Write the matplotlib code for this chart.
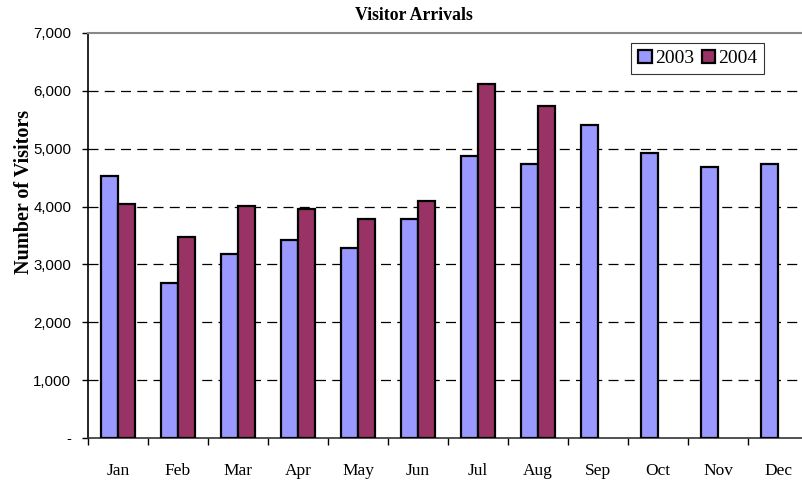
import numpy as np
import matplotlib
matplotlib.use("Agg")
import matplotlib.pyplot as plt
from matplotlib.ticker import FuncFormatter

months = ["Jan", "Feb", "Mar", "Apr", "May", "Jun",
          "Jul", "Aug", "Sep", "Oct", "Nov", "Dec"]
visitors_2003 = [4530, 2680, 3180, 3420, 3290, 3790,
                 4880, 4730, 5410, 4920, 4680, 4740]
visitors_2004 = [4050, 3480, 4010, 3960, 3790, 4090, 6120, 5740]
series_names = ["2003", "2004"]
y_ticks = [0, 1000, 2000, 3000, 4000, 5000, 6000, 7000]

serif = "Liberation Serif"
sans = "Liberation Sans"

fig = plt.figure(figsize=(8.02, 4.8), dpi=100)
ax = fig.add_axes([88 / 802, 1 - 438 / 480, 720 / 802, 405 / 480])

x = np.arange(len(months))
w = 0.285
ax.bar(x[:len(visitors_2003)] - w / 2, visitors_2003, w, color="#9999FF",
       edgecolor="black", linewidth=1.6, label=series_names[0], zorder=3)
ax.bar(x[:len(visitors_2004)] + w / 2, visitors_2004, w, color="#993366",
       edgecolor="black", linewidth=1.6, label=series_names[1], zorder=3)

ax.set_xlim(-0.5, len(months) - 0.5)
ax.set_ylim(0, 7000)
ax.set_yticks(y_ticks)
ax.yaxis.set_major_formatter(FuncFormatter(lambda v, p: "-" if v == 0 else f"{int(v):,}"))
for lab in ax.get_yticklabels():
    lab.set_fontfamily(sans)
    lab.set_fontsize(10.8)
ax.tick_params(axis="y", length=4, width=1, pad=8)

ax.set_xticks(x)
ax.set_xticklabels(months, fontfamily=serif, fontsize=12.5)
ax.tick_params(axis="x", length=0, pad=18)
ax.set_xticks(np.arange(-0.5, len(months)), minor=True)
ax.tick_params(axis="x", which="minor", length=5, width=1)

for v in y_ticks[1:-1]:
    ax.axhline(v, color="black", linestyle=(0, (8, 5)), linewidth=0.9, zorder=1)

ax.spines["right"].set_visible(False)
ax.spines["top"].set_color("#888888")
ax.spines["top"].set_linewidth(1.5)
ax.spines["left"].set_linewidth(1.2)
ax.spines["bottom"].set_linewidth(1.2)
ax.spines["bottom"].set_color("#333333")

ax.set_ylabel("Number of Visitors", fontfamily=serif, fontsize=14.5,
              fontweight="bold")
ax.yaxis.set_label_coords((34 - 88) / 720, (438 - 192) / 405)
fig.text(414 / 802, 1 - 15 / 480, "Visitor Arrivals", fontfamily=serif,
         fontsize=12.8, fontweight="bold", ha="center", va="center")

leg = ax.legend(loc="upper right", bbox_to_anchor=(764 / 802, 1 - 43 / 480),
                bbox_transform=fig.transFigure, ncol=2, frameon=True,
                fancybox=False, prop={"family": serif, "size": 14},
                handlelength=0.7, handleheight=0.7, handletextpad=0.15,
                columnspacing=0.4, borderpad=0.35, borderaxespad=0)
leg.get_frame().set_edgecolor("black")
leg.get_frame().set_linewidth(0.8)

fig.savefig("out.png", dpi=100)
